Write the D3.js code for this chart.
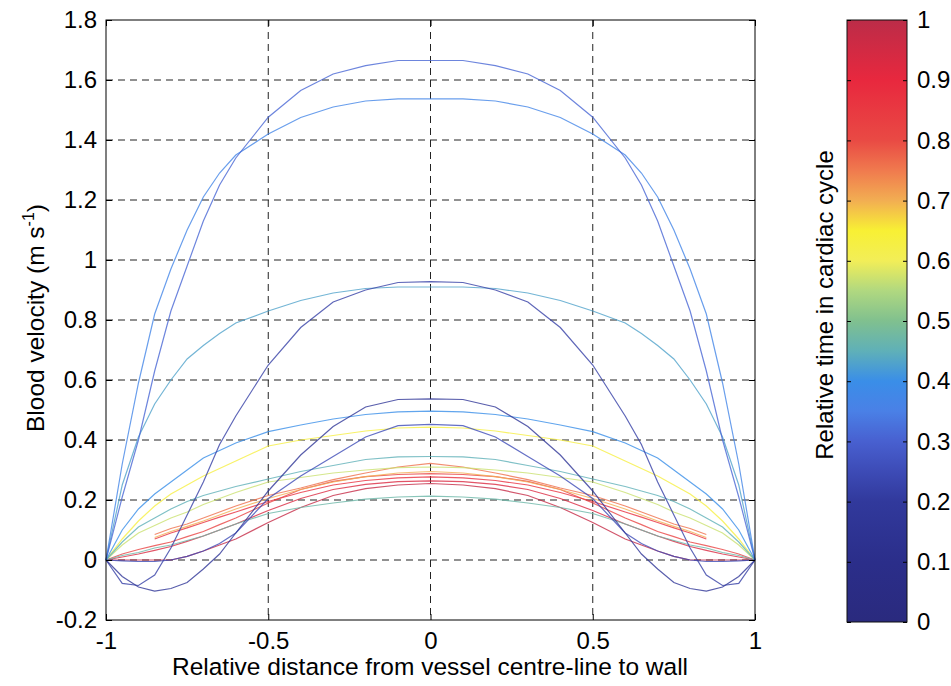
<!DOCTYPE html>
<html>
<head>
<meta charset="utf-8">
<script src="https://cdn.jsdelivr.net/npm/d3@7"></script>
<style>
  body { margin: 0; background: #fff; }
  svg { font-family: "Liberation Sans", Arial, sans-serif; }
  .tick text { font-size: 24px; fill: #000; }
  .domain { stroke: none; }
</style>
</head>
<body>
<svg id="chart" width="951" height="686"></svg>
<script>
// radial positions across the vessel (-1 wall .. 0 centre .. 1 wall)
const xPos = [-1, -0.95, -0.9, -0.85, -0.8, -0.75, -0.7, -0.65, -0.6, -0.5, -0.4, -0.3, -0.2, -0.1, 0,
  0.1, 0.2, 0.3, 0.4, 0.5, 0.6, 0.65, 0.7, 0.75, 0.8, 0.85, 0.9, 0.95, 1];

// velocity profiles (m/s), one per instant of the cardiac cycle
const profA  = [0, 0.21, 0.40, 0.63, 0.83, 0.98, 1.13, 1.25, 1.34, 1.476, 1.565, 1.62, 1.648, 1.665, 1.665,
  1.665, 1.648, 1.62, 1.565, 1.476, 1.34, 1.25, 1.13, 0.98, 0.83, 0.63, 0.40, 0.21, 0];
const profB  = [0, 0.32, 0.59, 0.82, 0.97, 1.10, 1.21, 1.29, 1.35, 1.42, 1.475, 1.51, 1.53, 1.537, 1.537,
  1.537, 1.53, 1.51, 1.475, 1.42, 1.35, 1.29, 1.21, 1.10, 0.97, 0.82, 0.59, 0.32, 0];
const profC  = [0, -0.078, -0.085, -0.05, 0.04, 0.15, 0.26, 0.385, 0.48, 0.65, 0.775, 0.86, 0.90, 0.925, 0.928,
  0.925, 0.90, 0.86, 0.775, 0.65, 0.48, 0.385, 0.26, 0.15, 0.04, -0.05, -0.085, -0.078, 0];
const profD  = [0, -0.055, -0.09, -0.104, -0.095, -0.075, -0.03, 0.02, 0.09, 0.23, 0.35, 0.445, 0.51, 0.535, 0.537,
  0.535, 0.51, 0.445, 0.35, 0.23, 0.09, 0.02, -0.03, -0.075, -0.095, -0.104, -0.09, -0.055, 0];
const profG  = [0, -0.003, -0.005, -0.005, 0, 0.012, 0.03, 0.055, 0.09, 0.205, 0.28, 0.345, 0.41, 0.448, 0.452,
  0.448, 0.41, 0.345, 0.28, 0.205, 0.09, 0.055, 0.03, 0.012, 0, -0.005, -0.005, -0.003, 0];
const profE  = [0, 0.25, 0.41, 0.52, 0.60, 0.67, 0.715, 0.755, 0.79, 0.83, 0.865, 0.89, 0.905, 0.91, 0.91,
  0.91, 0.905, 0.89, 0.865, 0.83, 0.79, 0.755, 0.715, 0.67, 0.60, 0.52, 0.41, 0.25, 0];
const profF  = [0, 0.10, 0.17, 0.22, 0.26, 0.30, 0.34, 0.365, 0.39, 0.428, 0.45, 0.47, 0.485, 0.494, 0.496,
  0.494, 0.485, 0.47, 0.45, 0.428, 0.39, 0.365, 0.34, 0.30, 0.26, 0.22, 0.17, 0.10, 0];
const profH  = [0, 0.07, 0.13, 0.18, 0.22, 0.25, 0.28, 0.305, 0.33, 0.38, 0.40, 0.415, 0.43, 0.44, 0.443,
  0.44, 0.43, 0.415, 0.40, 0.38, 0.33, 0.305, 0.28, 0.25, 0.22, 0.18, 0.13, 0.07, 0];
const profI  = [0, 0.06, 0.11, 0.14, 0.17, 0.195, 0.215, 0.23, 0.245, 0.27, 0.295, 0.315, 0.335, 0.344, 0.345,
  0.344, 0.335, 0.315, 0.295, 0.27, 0.245, 0.23, 0.215, 0.195, 0.17, 0.14, 0.11, 0.06, 0];
const profH2 = [0, 0.05, 0.09, 0.115, 0.14, 0.16, 0.185, 0.205, 0.225, 0.26, 0.275, 0.29, 0.30, 0.308, 0.31,
  0.308, 0.30, 0.29, 0.275, 0.26, 0.225, 0.205, 0.185, 0.16, 0.14, 0.115, 0.09, 0.05, 0];
const profK  = [0, 0.015, 0.025, 0.04, 0.05, 0.065, 0.08, 0.10, 0.12, 0.155, 0.175, 0.19, 0.203, 0.21, 0.213,
  0.21, 0.203, 0.19, 0.175, 0.155, 0.12, 0.10, 0.08, 0.065, 0.05, 0.04, 0.025, 0.015, 0];
const profR5 = [null, null, null, 0.075, 0.095, 0.112, 0.13, 0.15, 0.17, 0.205, 0.235, 0.26, 0.278, 0.29, 0.295,
  0.29, 0.278, 0.26, 0.235, 0.205, 0.17, 0.15, 0.13, 0.112, 0.095, 0.075, null, null, null];
const profJ  = [null, null, null, 0.085, 0.105, 0.12, 0.14, 0.16, 0.18, 0.215, 0.24, 0.268, 0.29, 0.31, 0.322,
  0.31, 0.29, 0.268, 0.24, 0.215, 0.18, 0.16, 0.14, 0.12, 0.105, 0.085, null, null, null];
const profR1 = [0, 0.02, 0.035, 0.048, 0.06, 0.078, 0.095, 0.118, 0.14, 0.19, 0.235, 0.262, 0.278, 0.285, 0.288,
  0.285, 0.278, 0.262, 0.235, 0.19, 0.14, 0.118, 0.095, 0.078, 0.06, 0.048, 0.035, 0.02, 0];
const profR2 = [null, null, null, 0.07, 0.09, 0.107, 0.125, 0.143, 0.16, 0.195, 0.225, 0.25, 0.265, 0.274, 0.277,
  0.274, 0.265, 0.25, 0.225, 0.195, 0.16, 0.143, 0.125, 0.107, 0.09, 0.07, null, null, null];
const profR3 = [0, 0.01, 0.02, 0.032, 0.045, 0.062, 0.08, 0.10, 0.12, 0.165, 0.205, 0.235, 0.252, 0.261, 0.264,
  0.261, 0.252, 0.235, 0.205, 0.165, 0.12, 0.10, 0.08, 0.062, 0.045, 0.032, 0.02, 0.01, 0];
const profR4 = [0, 0, 0, 0, 0, 0.012, 0.03, 0.05, 0.07, 0.125, 0.175, 0.215, 0.238, 0.25, 0.255,
  0.25, 0.238, 0.215, 0.175, 0.125, 0.07, 0.05, 0.03, 0.012, 0, 0, 0, 0, 0];

// relative time in the cardiac cycle of each profile (drawing order)
const profiles = [profR4, profR3, profR2, profR1, profJ, profR5, profH, profH2, profK, profI, profE, profF, profB, profA, profG, profC, profD];
const profTimes = [0.98, 0.93, 0.88, 0.82, 0.76, 0.70, 0.63, 0.57, 0.47, 0.45, 0.43, 0.40, 0.37, 0.31, 0.25, 0.22, 0.17];

// colour map of the colour bar
const cmapStops  = [0, 0.1, 0.2, 0.25, 0.3, 0.35, 0.4, 0.45, 0.5, 0.55, 0.6, 0.65, 0.7, 0.75, 0.8, 0.9, 1];
const cmapColors = ["#2a2a7e", "#2b2e8a", "#31399c", "#3d4bb6", "#4860d0", "#4a80e6", "#3a8ee8", "#5fb0b8",
  "#80c08f", "#b0d880", "#f2ee58", "#f8f034", "#f2ae52", "#f07a4e", "#e94a44", "#e8283e", "#bc2c48"];

const xTicks = [-1, -0.5, 0, 0.5, 1];
const yTicks = [-0.2, 0, 0.2, 0.4, 0.6, 0.8, 1, 1.2, 1.4, 1.6, 1.8];
const cbTicks = [0, 0.1, 0.2, 0.3, 0.4, 0.5, 0.6, 0.7, 0.8, 0.9, 1];

const svg = d3.select('#chart');
const L = 106, R = 755, T = 20, B = 620;

const x = d3.scaleLinear().domain([-1, 1]).range([L, R]);
const y = d3.scaleLinear().domain([-0.2, 1.8]).range([B, T]);
const cmap = d3.scaleLinear().domain(cmapStops).range(cmapColors);

// grid
const grid = svg.append('g').attr('stroke', '#222').attr('stroke-width', 1).attr('stroke-dasharray', '7,5');
grid.selectAll('.gx').data(xTicks.slice(1, -1)).enter().append('line')
  .attr('x1', d => x(d)).attr('x2', d => x(d)).attr('y1', T).attr('y2', B);
grid.selectAll('.gy').data(yTicks.slice(1, -1)).enter().append('line')
  .attr('x1', L).attr('x2', R).attr('y1', d => y(d)).attr('y2', d => y(d));

// profiles
const line = d3.line()
  .defined(d => d[1] !== null)
  .x(d => x(d[0])).y(d => y(d[1]));

svg.append('g').selectAll('path')
  .data(profiles.map((p, i) => ({ t: profTimes[i], pts: p.map((v, j) => [xPos[j], v]) })))
  .enter().append('path')
    .attr('fill', 'none')
    .attr('stroke', d => cmap(d.t))
    .attr('stroke-width', 1.2)
    .attr('stroke-opacity', 0.8)
    .attr('d', d => line(d.pts));

// axes with inward ticks, box all round
const fmt = d => String(d);
svg.append('g').attr('transform', `translate(0,${B})`)
  .call(d3.axisBottom(x).tickValues(xTicks).tickFormat(fmt).tickSize(-6).tickPadding(12));
svg.append('g').attr('transform', `translate(0,${T})`)
  .call(d3.axisTop(x).tickValues(xTicks).tickFormat('').tickSize(-6));
svg.append('g').attr('transform', `translate(${L},0)`)
  .call(d3.axisLeft(y).tickValues(yTicks).tickFormat(fmt).tickSize(-6).tickPadding(9));
svg.append('g').attr('transform', `translate(${R},0)`)
  .call(d3.axisRight(y).tickValues(yTicks).tickFormat('').tickSize(-6));
svg.selectAll('.tick line').attr('stroke', '#000');
svg.append('rect').attr('x', L).attr('y', T).attr('width', R - L).attr('height', B - T)
  .attr('fill', 'none').attr('stroke', '#000').attr('stroke-width', 1);

// axis titles
svg.append('text').attr('x', 430).attr('y', 675).attr('text-anchor', 'middle')
  .attr('font-size', 24.5).text('Relative distance from vessel centre-line to wall');

const yt = svg.append('text').attr('transform', 'translate(44,318) rotate(-90)')
  .attr('text-anchor', 'middle').attr('font-size', 24.5);
yt.append('tspan').text('Blood velocity (m s');
yt.append('tspan').attr('font-size', 16).attr('dy', -10).text('-1');
yt.append('tspan').attr('dy', 10).text(')');

// colour bar
const CL = 847, CR = 907, CT = 20, CB = 622;
const cy = d3.scaleLinear().domain([0, 1]).range([CB, CT]);

const grad = svg.append('defs').append('linearGradient').attr('id', 'cbar')
  .attr('x1', 0).attr('x2', 0).attr('y1', 1).attr('y2', 0);
grad.selectAll('stop').data(cmapStops).enter().append('stop')
  .attr('offset', d => d).attr('stop-color', (d, i) => cmapColors[i]);

svg.append('rect').attr('x', CL).attr('y', CT).attr('width', CR - CL).attr('height', CB - CT)
  .attr('fill', 'url(#cbar)').attr('stroke', '#111').attr('stroke-width', 1);

svg.append('g').attr('transform', `translate(${CR},0)`)
  .call(d3.axisRight(cy).tickValues(cbTicks).tickFormat(fmt).tickSize(-4).tickPadding(10))
  .selectAll('.tick line').attr('stroke', '#000');
svg.append('g').attr('transform', `translate(${CL},0)`)
  .call(d3.axisLeft(cy).tickValues(cbTicks).tickFormat('').tickSize(-4))
  .selectAll('.tick line').attr('stroke', '#000');

svg.append('text').attr('transform', 'translate(833,305) rotate(-90)')
  .attr('text-anchor', 'middle').attr('font-size', 24).text('Relative time in cardiac cycle');
</script>
</body>
</html>
